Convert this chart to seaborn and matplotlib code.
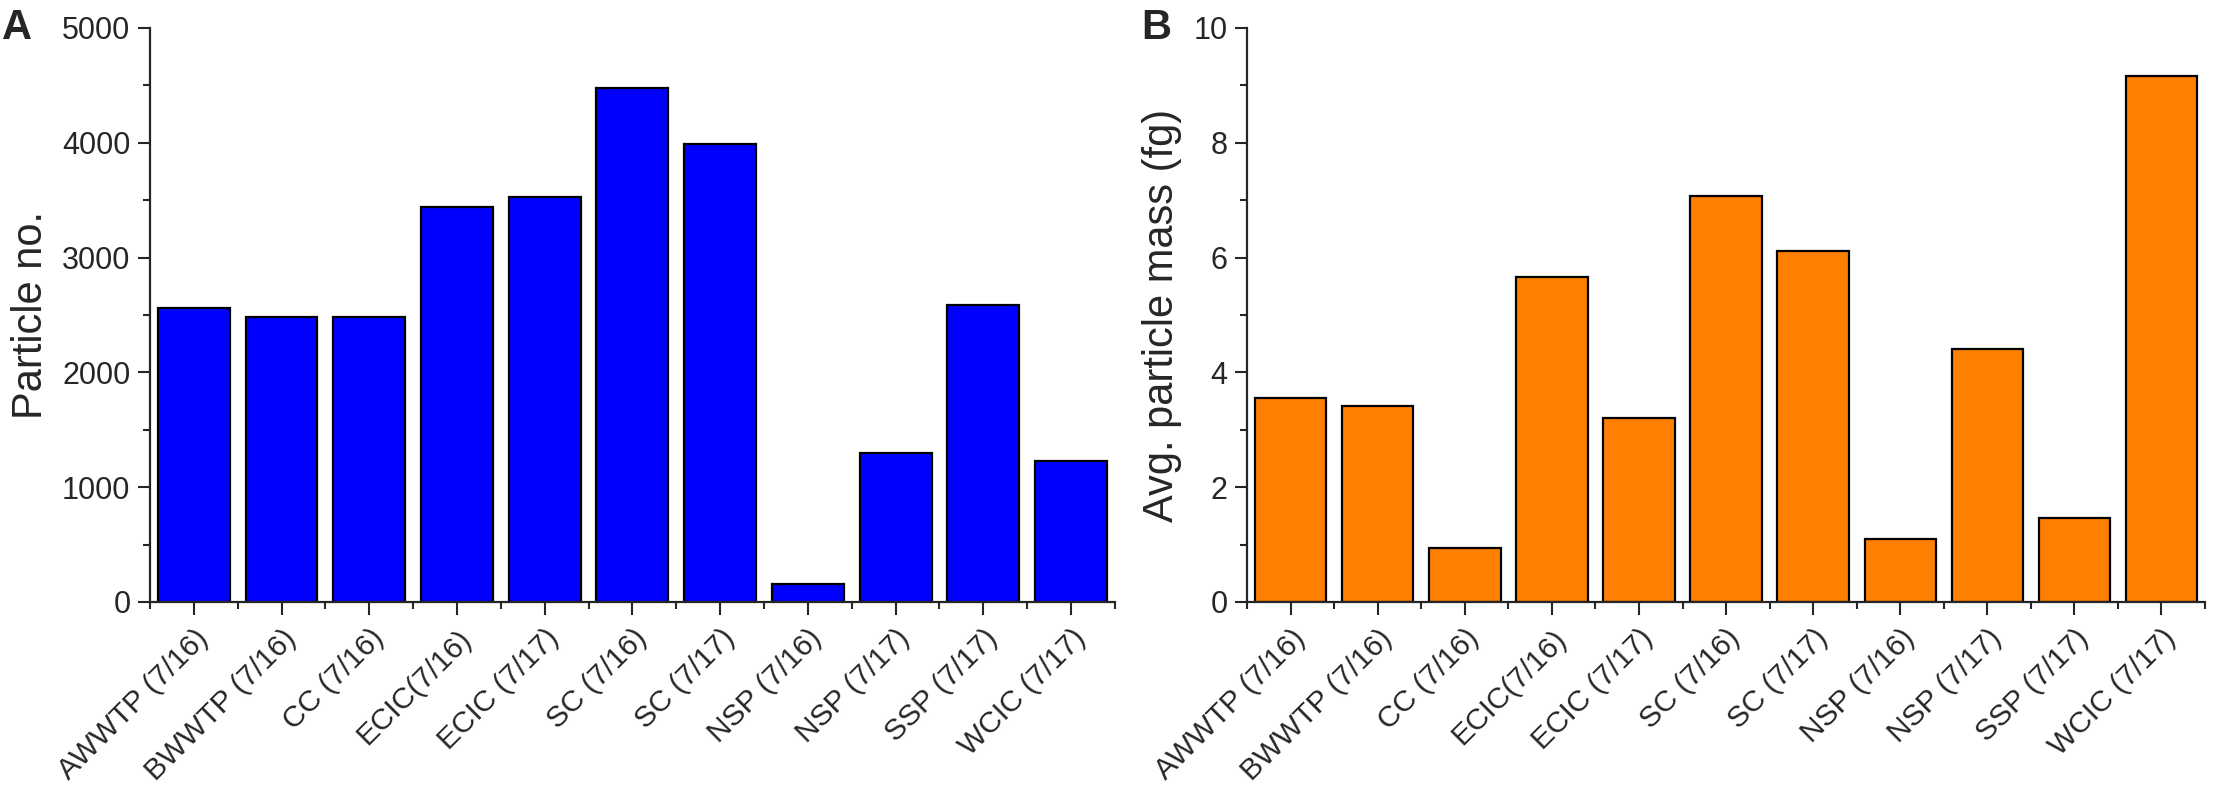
import numpy as np
import pandas as pd
import matplotlib
matplotlib.use('Agg')
import matplotlib.pyplot as plt
import seaborn as sns

sites = ['AWWTP (7/16)', 'BWWTP (7/16)', 'CC (7/16)', 'ECIC(7/16)', 'ECIC (7/17)',
         'SC (7/16)', 'SC (7/17)', 'NSP (7/16)', 'NSP (7/17)', 'SSP (7/17)', 'WCIC (7/17)']
particle_no = [2565, 2478, 2478, 3441, 3525, 4480, 3990, 158, 1295, 2590, 1230]
avg_mass = [3.56, 3.41, 0.94, 5.66, 3.20, 7.08, 6.12, 1.10, 4.41, 1.46, 9.16]

sns.set_style('ticks')
plt.rcParams['font.family'] = ['Liberation Sans', 'DejaVu Sans']


def draw_panel(ax, vals, color, ylim, yticks, ylabel, labelpad):
    df = pd.DataFrame({'site': sites, 'val': vals})
    sns.barplot(data=df, x='site', y='val', color=color, saturation=1, width=0.82,
                edgecolor='black', linewidth=1.6, ax=ax)
    ax.set_xlim(-0.5, len(sites) - 0.5)
    ax.set_ylim(*ylim)
    ax.set_yticks(yticks)
    ax.set_yticks(np.arange(ylim[0], ylim[1] + 0.001, (yticks[1] - yticks[0]) / 2), minor=True)
    ax.set_xticks(np.arange(-0.5, len(sites), 1), minor=True)
    ax.set_xticks(range(len(sites)))
    ax.set_xticklabels(sites, rotation=45, ha='right', rotation_mode='anchor', fontsize=21.5)
    ax.tick_params(axis='y', labelsize=22)
    ax.tick_params(which='major', direction='out', length=9, width=1.5, pad=5)
    ax.tick_params(axis='x', which='major', pad=7)
    ax.tick_params(which='minor', direction='out', length=5, width=1.5)
    ax.set_xlabel('')
    ax.set_ylabel(ylabel, fontsize=30, labelpad=labelpad)
    for s in ['left', 'bottom']:
        ax.spines[s].set_linewidth(1.6)
    sns.despine(ax=ax)


fig = plt.figure(figsize=(22.21, 7.9), dpi=100)
ax1 = fig.add_axes([0.0675, 0.238, 0.4345, 0.7266])
ax2 = fig.add_axes([0.5615, 0.238, 0.4313, 0.7266])

draw_panel(ax1, particle_no, '#0000FF', (0, 5000), [0, 1000, 2000, 3000, 4000, 5000], 'Particle no.', 8)
draw_panel(ax2, avg_mass, '#FF8000', (0, 10), [0, 2, 4, 6, 8, 10], 'Avg. particle mass (fg)', 8)

fig.text(0.001, 0.99, 'A', fontsize=30, fontweight='bold', va='top', ha='left')
fig.text(0.514, 0.99, 'B', fontsize=30, fontweight='bold', va='top', ha='left')

plt.savefig('out.png', dpi=100)
